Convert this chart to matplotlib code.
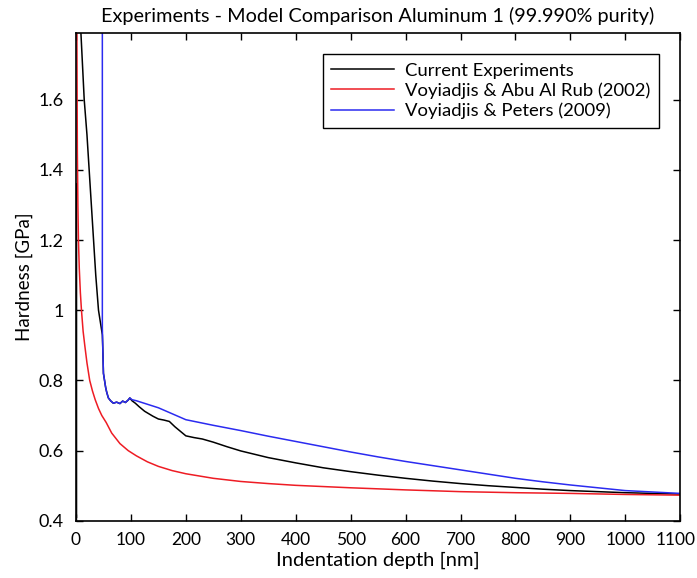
import matplotlib.pyplot as plt
import matplotlib.transforms as mtransforms
import numpy as np

plt.rcParams['font.family'] = ['Lato', 'DejaVu Sans']

# current experiments (nan splits the short spike near the axis)
exp_x = [1, 1, np.nan, 9, 15, 20, 24, 32, 36, 41, 45, 48, 49, 50, 51, 52, 54, 56, 59, 63, 68,
         74, 80, 85, 90, 95, 98, 102, 108, 115, 125, 140, 150, 160, 170, 180, 190, 200,
         215, 230, 250, 275, 300, 350, 400, 450, 500, 550, 600, 650, 700, 750, 800,
         850, 900, 950, 1000, 1050, 1100]
exp_y = [0.41, 1.36, np.nan, 1.79, 1.6, 1.5, 1.4, 1.2, 1.1, 1.0, 0.96, 0.93, 0.88, 0.82, 0.81,
         0.80, 0.78, 0.766, 0.75, 0.742, 0.735, 0.738, 0.734, 0.741, 0.737, 0.744, 0.75,
         0.742, 0.735, 0.725, 0.712, 0.698, 0.69, 0.687, 0.683, 0.668, 0.655, 0.642,
         0.637, 0.633, 0.624, 0.611, 0.599, 0.58, 0.565, 0.551, 0.540, 0.530, 0.521,
         0.513, 0.506, 0.500, 0.495, 0.490, 0.486, 0.483, 0.480, 0.478, 0.476]

# Voyiadjis & Abu Al Rub (2002)
abu_x = [1.5, 2.5, 3.5, 4.5, 6, 8, 10, 13, 16, 20, 25, 30, 35, 41, 47, 55, 65, 80, 95,
         110, 130, 150, 175, 200, 250, 300, 350, 400, 500, 600, 700, 800, 900, 1000, 1100]
abu_y = [1.85, 1.45, 1.3, 1.2, 1.12, 1.05, 1.0, 0.94, 0.9, 0.85, 0.8, 0.77, 0.745,
         0.72, 0.70, 0.68, 0.65, 0.62, 0.60, 0.585, 0.568, 0.555, 0.543, 0.534, 0.521,
         0.512, 0.506, 0.501, 0.494, 0.488, 0.483, 0.480, 0.478, 0.475, 0.473]

# Voyiadjis & Peters (2009)
pet_x = [48, 48, 49, 50, 51, 52, 54, 56, 59, 63, 68, 74, 80, 85, 90, 95, 98, 102, 110,
         120, 150, 200, 250, 300, 350, 400, 450, 500, 550, 600, 650, 700, 750, 800,
         850, 900, 950, 1000, 1050, 1100]
pet_y = [1.85, 0.95, 0.88, 0.82, 0.81, 0.80, 0.78, 0.766, 0.75, 0.742, 0.735, 0.738,
         0.734, 0.741, 0.737, 0.744, 0.75, 0.745, 0.742, 0.737, 0.722, 0.688, 0.672,
         0.657, 0.641, 0.626, 0.611, 0.596, 0.582, 0.569, 0.557, 0.545, 0.533, 0.521,
         0.511, 0.502, 0.494, 0.486, 0.482, 0.478]

xticks = list(range(0, 1101, 100))
yticks = [0.4, 0.6, 0.8, 1.0, 1.2, 1.4, 1.6]

fig = plt.figure(figsize=(6.97, 5.78), dpi=100)
ax = fig.add_axes([0.109, 0.099, 0.867, 0.844])

ax.plot(exp_x, exp_y, color='black', lw=1.1, label='Current Experiments')
ax.plot(abu_x, abu_y, color='#ee1c24', lw=1.1, label='Voyiadjis & Abu Al Rub (2002)')
ax.plot(pet_x, pet_y, color='#2b2bf0', lw=1.1, label='Voyiadjis & Peters (2009)')

ax.set_xlim(0, 1100)
ax.set_ylim(0.4, 1.79)
ax.set_xticks(xticks)
ax.set_yticks(yticks)
ax.set_yticklabels(['%g' % v for v in yticks])
ax.tick_params(direction='in', top=True, right=True, length=5, width=1, labelsize=13)
ax.tick_params(axis='x', pad=8, labelsize=12.5)
ax.tick_params(axis='y', pad=9)
for s in ax.spines.values():
    s.set_linewidth(1.2)

# nudge the last x label so it stays inside the picture
last = ax.get_xticklabels()[-1]
last.set_transform(last.get_transform() + mtransforms.ScaledTranslation(-5 / 100, 0, fig.dpi_scale_trans))

ax.set_xlabel('Indentation depth [nm]', fontsize=14.5, labelpad=3)
ax.set_ylabel('Hardness [GPa]', fontsize=13.5, labelpad=4)
ax.set_title('Experiments - Model Comparison Aluminum 1 (99.990% purity)', fontsize=14.3, pad=8)

leg = ax.legend(loc='upper right', bbox_to_anchor=(0.98, 0.975), fontsize=13.3,
                handlelength=3.4, fancybox=False, framealpha=1, borderpad=0.45,
                labelspacing=0.2, handletextpad=0.6)
leg.get_frame().set_edgecolor('black')
leg.get_frame().set_linewidth(1.0)

fig.savefig('out.png', dpi=100)
